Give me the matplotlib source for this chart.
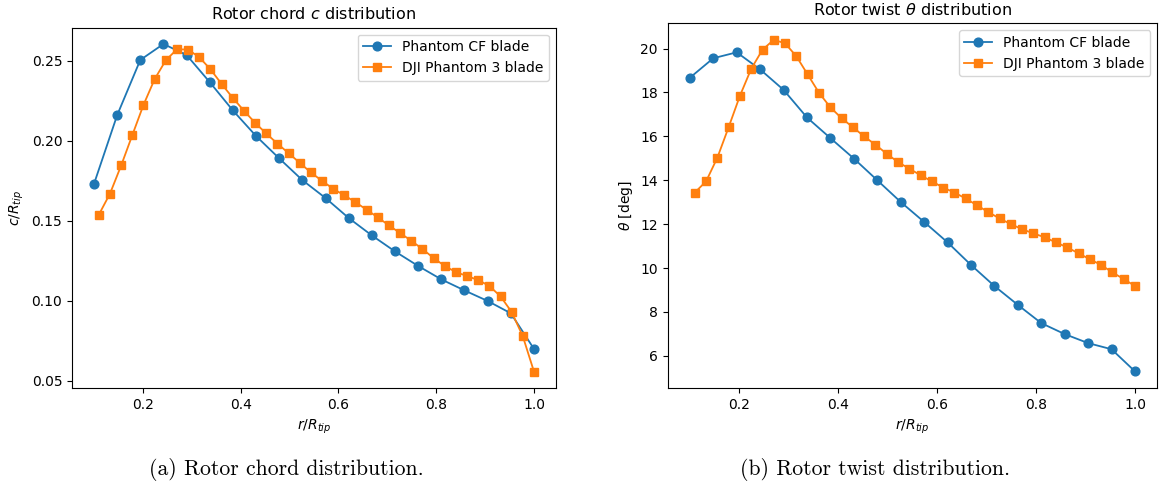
import numpy as np
import matplotlib
matplotlib.use("Agg")
import matplotlib.pyplot as plt

# radial stations
r_cf = np.linspace(0.1, 1.0, 20)
r_dji = np.linspace(0.11, 1.0, 40)

# chord distribution c/R_tip
c_cf = [0.173, 0.216, 0.2506, 0.2606, 0.2537, 0.2367, 0.219, 0.203, 0.189, 0.1754,
        0.1642, 0.1517, 0.1408, 0.1308, 0.1217, 0.1133, 0.1064, 0.0998, 0.0921, 0.0698]
c_dji = [0.1538, 0.167, 0.1846, 0.2036, 0.2225, 0.2386, 0.2504, 0.2573, 0.2571, 0.2523,
         0.2448, 0.2356, 0.2269, 0.2189, 0.2113, 0.2046, 0.1983, 0.1923, 0.1863, 0.1802,
         0.175, 0.170, 0.1659, 0.1616, 0.1569, 0.1521, 0.1471, 0.1423, 0.1375, 0.1323,
         0.1267, 0.1217, 0.1179, 0.1154, 0.1129, 0.1092, 0.1027, 0.0929, 0.0777, 0.0556]

# twist distribution theta [deg]
t_cf = [18.67, 19.56, 19.83, 19.05, 18.12, 16.86, 15.92, 14.99, 14.0, 13.01,
        12.10, 11.17, 10.14, 9.18, 8.32, 7.49, 6.99, 6.58, 6.30, 5.29]
t_dji = [13.44, 13.95, 15.03, 16.42, 17.85, 19.08, 19.95, 20.40, 20.24, 19.65,
         18.82, 17.99, 17.33, 16.83, 16.42, 16.00, 15.62, 15.21, 14.83, 14.53,
         14.23, 13.95, 13.67, 13.44, 13.17, 12.86, 12.55, 12.26, 12.0, 11.77,
         11.58, 11.40, 11.17, 10.94, 10.67, 10.40, 10.14, 9.80, 9.50, 9.18]

fig = plt.figure(figsize=(11.59, 4.87), dpi=100)
ax1 = fig.add_axes([0.0621, 0.2033, 0.4176, 0.740])
ax2 = fig.add_axes([0.576, 0.2033, 0.4225, 0.749])

ax1.plot(r_cf, c_cf, 'o-', ms=6.3, lw=1.3, label="Phantom CF blade")
ax1.plot(r_dji, c_dji, 's-', ms=6.3, lw=1.3, label="DJI Phantom 3 blade")
ax1.set_title(r"Rotor chord $c$ distribution", fontsize=11.5)
ax1.set_xlabel(r"$r/R_{tip}$")
ax1.set_ylabel(r"$c/R_{tip}$")
ax1.set_xticks([0.2, 0.4, 0.6, 0.8, 1.0])
ax1.legend(loc="upper right")

ax2.plot(r_cf, t_cf, 'o-', ms=6.3, lw=1.3, label="Phantom CF blade")
ax2.plot(r_dji, t_dji, 's-', ms=6.3, lw=1.3, label="DJI Phantom 3 blade")
ax2.set_title(r"Rotor twist $\theta$ distribution", fontsize=11.5)
ax2.set_xlabel(r"$r/R_{tip}$")
ax2.set_ylabel(r"$\theta$ [deg]")
ax2.set_xticks([0.2, 0.4, 0.6, 0.8, 1.0])
ax2.legend(loc="upper right")

fig.text(0.247, 0.025, "(a) Rotor chord distribution.", family="cmr10", fontsize=15.6, ha="center")
fig.text(0.755, 0.025, "(b) Rotor twist distribution.", family="cmr10", fontsize=15.6, ha="center")

fig.savefig("out.png", dpi=100)
